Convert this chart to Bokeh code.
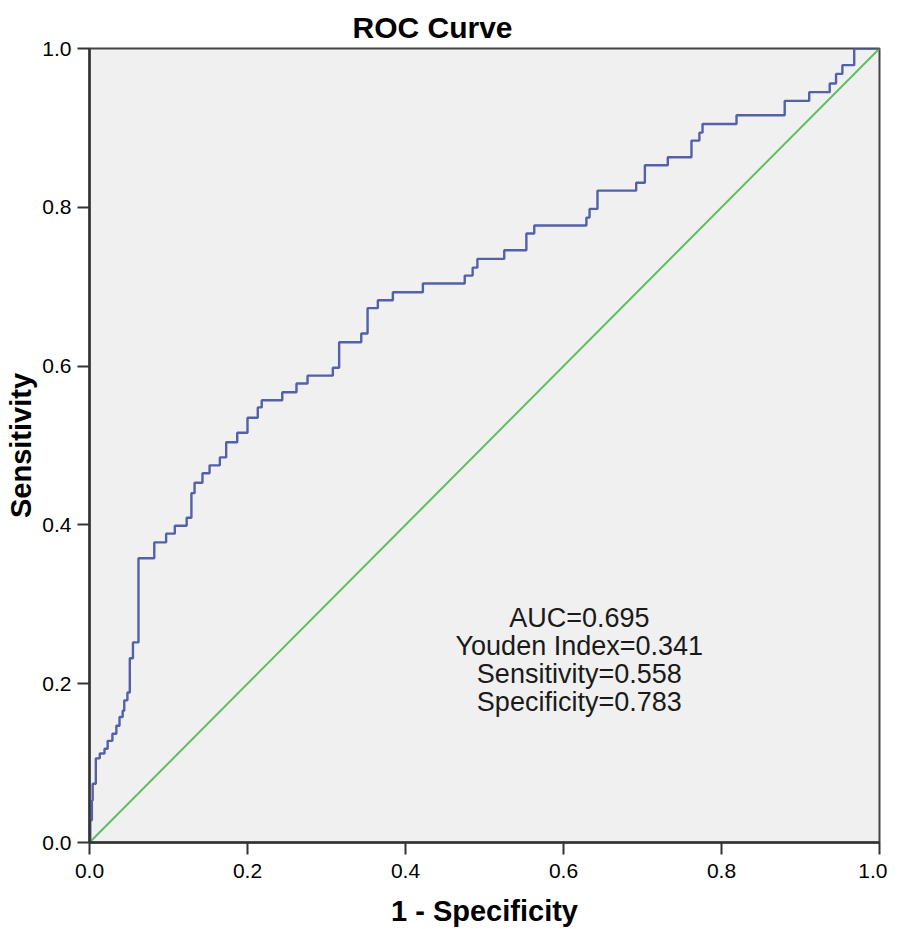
from bokeh.plotting import figure
from bokeh.models import Range1d, FixedTicker, NumeralTickFormatter
from bokeh.core.properties import value
from bokeh.embed import file_html
from bokeh.resources import INLINE

# ROC curve vertices (1 - specificity, sensitivity)
fpr = [0.000, 0.001, 0.003, 0.004, 0.008, 0.013, 0.019, 0.023, 0.029, 0.034,
       0.038, 0.042, 0.044, 0.048, 0.051, 0.055, 0.062, 0.082, 0.097, 0.108,
       0.123, 0.129, 0.133, 0.143, 0.152, 0.165, 0.173, 0.187, 0.200, 0.213,
       0.218, 0.244, 0.262, 0.276, 0.308, 0.316, 0.344, 0.352, 0.365, 0.384,
       0.422, 0.475, 0.485, 0.491, 0.525, 0.553, 0.563, 0.629, 0.633, 0.643,
       0.692, 0.703, 0.732, 0.762, 0.772, 0.776, 0.819, 0.880, 0.911, 0.937,
       0.945, 0.953, 0.968, 1.000]
tpr = [0.000, 0.028, 0.053, 0.074, 0.106, 0.112, 0.118, 0.128, 0.137, 0.147,
       0.158, 0.166, 0.179, 0.189, 0.232, 0.252, 0.358, 0.378, 0.389, 0.399,
       0.409, 0.440, 0.453, 0.465, 0.475, 0.485, 0.504, 0.516, 0.535, 0.548,
       0.557, 0.567, 0.578, 0.588, 0.598, 0.630, 0.641, 0.673, 0.683, 0.693,
       0.704, 0.714, 0.724, 0.735, 0.746, 0.767, 0.777, 0.787, 0.798, 0.821,
       0.831, 0.853, 0.863, 0.884, 0.894, 0.905, 0.916, 0.934, 0.945, 0.956,
       0.968, 0.979, 1.000, 1.000]

# reference (chance) line
diag_x = [0.0, 1.0]
diag_y = [0.0, 1.0]

tick_values = [0.0, 0.2, 0.4, 0.6, 0.8, 1.0]

stats_lines = ["AUC=0.695", "Youden Index=0.341", "Sensitivity=0.558", "Specificity=0.783"]
stats_x = 0.620
stats_top = 0.283
stats_step = 0.0353

FONT = "Liberation Sans"

p = figure(frame_width=790, frame_height=794,
           x_range=Range1d(0, 1), y_range=Range1d(0, 1),
           output_backend="svg", toolbar_location=None,
           min_border_left=89, min_border_right=8,
           min_border_top=48, min_border_bottom=78,
           background_fill_color="#F0F0F0", border_fill_color="white")

p.title.text = "ROC Curve"
p.title.text_font = FONT
p.title.text_font_size = "30px"
p.title.text_font_style = "bold"
p.title.align = "left"
p.title.offset = 263
p.title.text_color = "black"

p.xgrid.visible = False
p.ygrid.visible = False

p.outline_line_color = "#444444"
p.outline_line_width = 2
p.outline_line_alpha = 1.0

for ax in (p.xaxis[0], p.yaxis[0]):
    ax.ticker = FixedTicker(ticks=tick_values)
    ax.formatter = NumeralTickFormatter(format="0.0")
    ax.axis_line_color = "#333333"
    ax.axis_line_width = 2.5
    ax.major_tick_line_color = "#333333"
    ax.major_tick_line_width = 2
    ax.major_tick_out = 12
    ax.major_tick_in = 0
    ax.minor_tick_out = 0
    ax.minor_tick_in = 0
    ax.major_label_text_font = FONT
    ax.major_label_text_font_size = "21px"
    ax.major_label_text_color = "black"
    ax.axis_label_text_font = FONT
    ax.axis_label_text_font_size = "29px"
    ax.axis_label_text_font_style = "bold"
    ax.axis_label_text_color = "black"

p.xaxis.axis_label = "1 - Specificity"
p.yaxis.axis_label = "Sensitivity"
p.xaxis.major_label_standoff = 9
p.yaxis.major_label_standoff = 6
p.xaxis.axis_label_standoff = 14
p.yaxis.axis_label_standoff = 2

p.line(diag_x, diag_y, line_color="#5CBF5C", line_width=2)
p.step(fpr, tpr, mode="after", line_color="#5360AA", line_width=2.4)

ys = [stats_top - i * stats_step for i in range(len(stats_lines))]
p.text(x=[stats_x] * len(stats_lines), y=ys, text=stats_lines,
       text_font=value(FONT), text_font_size="27px", text_align="center",
       text_baseline="alphabetic", text_color="#1a1a1a")

open("out.html", "w").write(file_html(p, INLINE))
